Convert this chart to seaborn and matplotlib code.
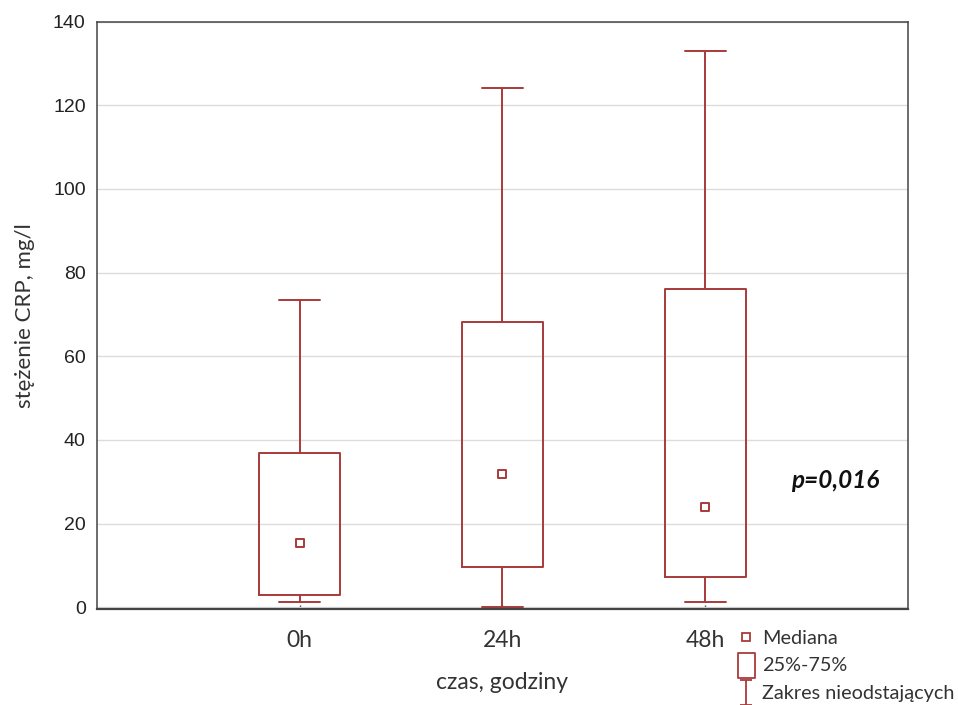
import numpy as np
import pandas as pd
import seaborn as sns
import matplotlib
matplotlib.use("Agg")
import matplotlib.pyplot as plt
from matplotlib.lines import Line2D
from matplotlib.path import Path

# ---- data ----
categories = ["0h", "24h", "48h"]
whisker_low = [1.2, 0.0, 1.2]
q1 = [2.9, 9.6, 7.2]
median = [15.3, 31.8, 24.1]
q3 = [36.8, 68.1, 76.0]
whisker_high = [73.4, 124.0, 133.0]
p_text = "p=0,016"

# five-number data per group so the box/whisker statistics come out exactly
rows = []
for i, c in enumerate(categories):
    for v in (whisker_low[i], q1[i], median[i], q3[i], whisker_high[i]):
        rows.append({"czas": c, "crp": v})
df = pd.DataFrame(rows)
med_df = pd.DataFrame({"czas": categories, "crp": median})

RED = "#a83a3a"
HUM = ["Lato", "DejaVu Sans"]

sns.set_theme(style="whitegrid")
plt.rcParams["font.family"] = ["Liberation Sans", "DejaVu Sans"]

fig = plt.figure(figsize=(9.58, 7.05), dpi=100)
ax = fig.add_axes([0.101, 0.1355, 0.847, 0.834])

sns.boxplot(data=df, x="czas", y="crp", order=categories, whis=np.inf,
            width=0.4, fill=False, color=RED, linecolor=RED, linewidth=1.4,
            medianprops={"visible": False}, ax=ax)
sns.scatterplot(data=med_df, x="czas", y="crp", marker="s", s=40,
                facecolor="white", edgecolor=RED, linewidth=1.4, ax=ax,
                zorder=5, legend=False)

ax.set_xlim(-1, 3)
ax.set_ylim(-0.5, 140)
ax.set_yticks(np.arange(0, 141, 20))
ax.xaxis.grid(False)
ax.yaxis.grid(True, color="#dcdcdc", linewidth=1.0)
for s in ax.spines.values():
    s.set_visible(True)
    s.set_color("#444444")
    s.set_linewidth(1.1)
ax.spines["bottom"].set_linewidth(1.6)

ax.tick_params(axis="y", labelsize=14, length=0, pad=8, labelcolor="#222222")
ax.tick_params(axis="x", labelsize=16.5, direction="in", length=3, width=1,
               color="#444444", pad=15, labelcolor="#333333", bottom=True)
for lab in ax.get_xticklabels():
    lab.set_family(HUM)

ax.set_xlabel("czas, godziny", family=HUM, fontsize=16.5,
              color="#333333", labelpad=15)
ax.set_ylabel("stężenie CRP, mg/l", family=HUM, fontsize=16,
              color="#333333", labelpad=13)

ax.text(2.64, 30.3, p_text, ha="center", va="center", fontsize=17.5,
        fontweight="bold", fontstyle="italic", family=HUM,
        color="#111111")

# legend
rect_marker = Path([(-0.34, -0.5), (0.34, -0.5), (0.34, 0.5), (-0.34, 0.5), (-0.34, -0.5)],
                   [Path.MOVETO, Path.LINETO, Path.LINETO, Path.LINETO, Path.CLOSEPOLY])
whisk_marker = Path([(-0.25, 0.5), (0.25, 0.5), (0, 0.5), (0, -0.5), (-0.25, -0.5), (0.25, -0.5)],
                    [Path.MOVETO, Path.LINETO, Path.MOVETO, Path.LINETO, Path.MOVETO, Path.LINETO])
handles = [
    Line2D([], [], linestyle="none", marker="s", markersize=5.5, markerfacecolor="white",
           markeredgecolor=RED, markeredgewidth=1.3),
    Line2D([], [], linestyle="none", marker=rect_marker, markersize=18, markerfacecolor="none",
           markeredgecolor=RED, markeredgewidth=1.3),
    Line2D([], [], linestyle="none", marker=whisk_marker, markersize=18, markerfacecolor="none",
           markeredgecolor=RED, markeredgewidth=1.3),
]
labels = ["Mediana", "25%-75%", "Zakres nieodstających"]
leg = fig.legend(handles, labels, loc="upper left", bbox_to_anchor=(0.770, 0.107),
                 frameon=False, handlelength=0.8, handletextpad=0.45,
                 labelspacing=0.55, borderpad=0, borderaxespad=0,
                 prop={"family": HUM, "size": 14.3})
for t in leg.get_texts():
    t.set_color("#333333")

fig.savefig("out.png", dpi=100, facecolor="white")
